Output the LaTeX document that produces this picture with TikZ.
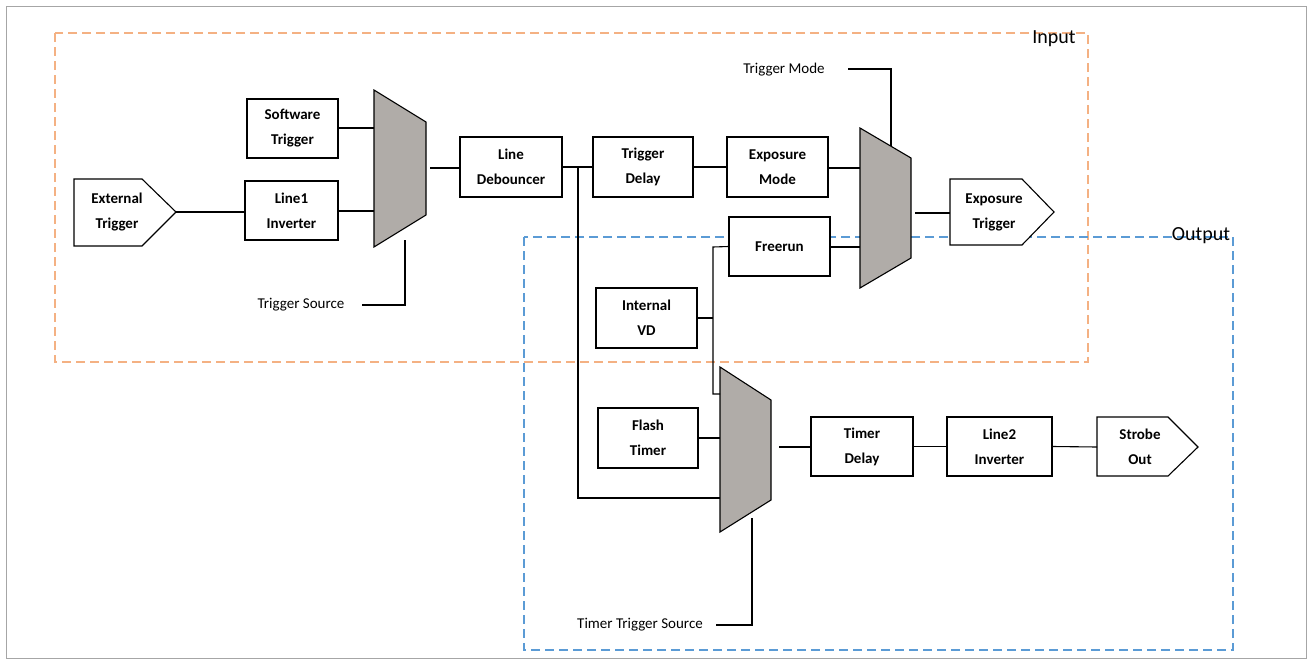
\documentclass[tikz,border=0pt]{standalone}
\usepackage{fontspec}
\setmainfont{Carlito}
\definecolor{inorange}{HTML}{F4B183}
\definecolor{outblue}{HTML}{5B9BD5}
\begin{document}
\begin{tikzpicture}[x=1pt,y=-1pt,
  blk/.style={draw,line width=1.1pt,fill=white,inner sep=0pt,align=center,font=\bfseries\fontsize{15}{25}\selectfont},
  ln/.style={line width=1.1pt},
  mux/.style={draw,line width=1.1pt,fill=gray!60!brown!25!gray!65},
  lbl/.style={font=\fontsize{15}{17}\selectfont}]
\useasboundingbox (0,0) rectangle (1312,664);
\draw[gray!70] (6,6) rectangle (1306,658);
\draw[inorange,line width=2.2pt,dash pattern=on 9pt off 5pt] (55,33) rectangle (1088,362);
\draw[outblue,line width=2.2pt,dash pattern=on 9pt off 5pt] (524,237) rectangle (1233,650);
\node[font=\fontsize{20}{22}\selectfont] (tin) at (1054,39) {Input};
\node[font=\fontsize{20}{22}\selectfont] (tout) at (1201,236) {Output};
% pentagons
\draw[line width=1.1pt,fill=white] (74,179) -- (142,179) -- (176,212) -- (142,246) -- (74,246) -- cycle;
\node[blk,draw=none,fill=none] (ext) at (117,212) {External\\Trigger};
\coordinate (extR) at (176,212);
\draw[line width=1.1pt,fill=white] (950,179) -- (1022,179) -- (1054,212) -- (1022,245) -- (950,245) -- cycle;
\node[blk,draw=none,fill=none] (exptr) at (994,212) {Exposure\\Trigger};
\coordinate (exptrL) at (950,213);
\draw[line width=1.1pt,fill=white] (1097,417) -- (1168,417) -- (1198,447) -- (1168,476) -- (1097,476) -- cycle;
\node[blk,draw=none,fill=none] (strobe) at (1140,447) {Strobe\\Out};
\coordinate (strobeL) at (1097,447);
% boxes
\node[blk,minimum width=91pt,minimum height=59pt] (sw) at (292.5,128.5) {Software\\Trigger};
\node[blk,minimum width=93pt,minimum height=59pt] (l1) at (291.5,210.5) {Line1\\Inverter};
\node[blk,minimum width=102pt,minimum height=60pt] (deb) at (511,167) {Line\\Debouncer};
\node[blk,minimum width=100pt,minimum height=60pt] (tdel) at (643,167) {Trigger\\Delay};
\node[blk,minimum width=101pt,minimum height=60pt] (expm) at (777.5,167) {Exposure\\Mode};
\node[blk,minimum width=101pt,minimum height=59pt] (free) at (779.5,246.5) {Freerun};
\node[blk,minimum width=101pt,minimum height=60pt] (ivd) at (646.5,318) {Internal\\VD};
\node[blk,minimum width=100pt,minimum height=60pt] (flash) at (648,438) {Flash\\Timer};
\node[blk,minimum width=102pt,minimum height=59pt] (tmd) at (862,446.5) {Timer\\Delay};
\node[blk,minimum width=105pt,minimum height=59pt] (l2) at (999.5,446.5) {Line2\\Inverter};
% muxes
\draw[mux] (374,90) -- (426,122) -- (426,215) -- (374,247) -- cycle;
\draw[mux] (860,128) -- (911,158) -- (911,258) -- (860,288) -- cycle;
\draw[mux] (720,367) -- (771,400) -- (771,500) -- (720,532) -- cycle;
\coordinate (m1a) at (374,128); \coordinate (m1b) at (374,211);
\coordinate (m1o) at (430,168); \coordinate (m1s) at (405,240);
\coordinate (m2a) at (860,168); \coordinate (m2b) at (860,247);
\coordinate (m2o) at (915,213); \coordinate (m2s) at (891,146);
\coordinate (m3a) at (720,394); \coordinate (m3b) at (720,438); \coordinate (m3c) at (720,498);
\coordinate (m3o) at (779,447); \coordinate (m3s) at (752,518);
% connectors
\draw[ln] (extR) -- (l1.west |- extR);
\draw[ln] (sw.east |- m1a) -- (m1a);
\draw[ln] (l1.east |- m1b) -- (m1b);
\draw[ln] (m1o) -- (deb.west |- m1o);
\draw[ln] (deb.east) -- (tdel.west);
\draw[ln] (tdel.east) -- (expm.west);
\draw[ln] (expm.east |- m2a) -- (m2a);
\draw[ln] (free.east |- m2b) -- (m2b);
\draw[ln] (m2o) -- (exptrL);
\draw[ln] (578,167) -- (578,498) -- (m3c);
\draw[ln] (free.west) -- (713,247) -- (713,394) -- (m3a);
\draw[ln] (ivd.east) -- (713,318);
\draw[ln] (flash.east) -- (m3b);
\draw[ln] (m3o) -- (tmd.west |- m3o);
\draw[ln] (tmd.east) -- (l2.west);
\draw[ln] (l2.east) -- (strobeL);
% selectors
\node[lbl] (ts) at (301,305) {Trigger Source};
\draw[ln] (362,305) -- (405,305) -- (m1s);
\node[lbl] (tm) at (784,70) {Trigger Mode};
\draw[ln] (848,69) -- (891,69) -- (m2s);
\node[lbl] (tts) at (640,625) {Timer Trigger Source};
\draw[ln] (716,625) -- (752,625) -- (m3s);
\end{tikzpicture}
\end{document}
